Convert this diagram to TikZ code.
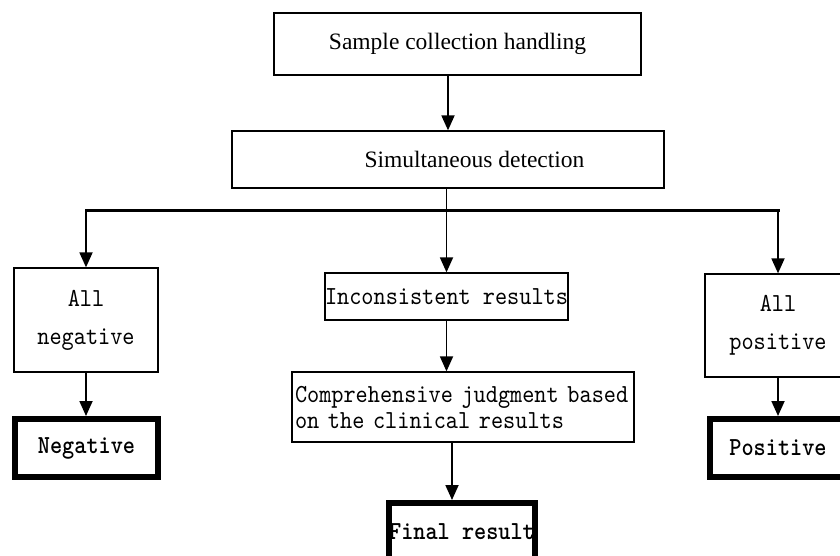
\documentclass[tikz,border=0pt]{standalone}
\usepackage{fontspec}
\setmainfont{Liberation Serif}
\newfontfamily\cnmono{lmmono10-regular.otf}[FakeStretch=0.89, BoldFont=lmmonolt10-bold.otf]
\usetikzlibrary{arrows.meta}

\begin{document}
\begin{tikzpicture}[x=1pt, y=-1pt, >={Triangle[length=15pt,width=13pt]},
  box/.style={draw, line width=1.3pt, inner sep=2pt},
  topbox/.style={box, font=\fontsize{23.5}{28}\selectfont},
  monobox/.style={box, font=\cnmono\fontsize{26}{26}\selectfont},
  resbox/.style={draw, line width=6pt, inner sep=0pt,
                 font=\cnmono\bfseries\fontsize{26}{26}\selectfont},
  arr/.style={->, line width=1.8pt},
  bus/.style={line width=3pt, line cap=rect}]

\useasboundingbox (0,0) rectangle (840,555);
\clip (0,0) rectangle (840,555);

% Étapes du haut
\node[topbox, minimum width=367pt, minimum height=62pt] (sample) at (457.5,44) {Sample collection handling};
\node[topbox, minimum width=432pt, minimum height=57pt] (detect) at (448,159.5) {\hspace*{53pt}Simultaneous detection};
\coordinate (split) at (447,210.5);

% Trois cas
\node[monobox, minimum width=144pt, minimum height=104pt, align=center] (allneg) at (86,320) {All\\[12pt]negative};
\node[monobox, minimum width=241pt, minimum height=47pt, inner xsep=0pt] (incons) at (446.5,296.5) {Inconsistent results};
\node[monobox, minimum width=146pt, minimum height=103pt, align=center] (allpos) at (778,325.5) {All\\[12pt]positive};
\node[monobox, text width=336pt, inner xsep=3pt, minimum height=70pt, align=left] (judge) at (463,407) {Comprehensive judgment based\\on the clinical results};

% Résultats
\node[resbox, minimum width=143pt, minimum height=58pt] (neg) at (86.5,448) {Negative};
\node[resbox, minimum width=136pt, minimum height=58pt] (pos) at (778,448) {Positive};
\node[resbox, minimum width=144pt, minimum height=58pt] (final) at (462,532) {Final result};

% Flèches
\draw[arr] (detect.north |- sample.south) -- (detect.north);
\draw[bus] (allneg.north |- split) -- (allpos.north |- split);
\draw[arr] (allneg.north |- split) -- (allneg.north);
\draw[arr] (allpos.north |- split) -- (allpos.north);
\draw[arr] (incons.north |- detect.south) -- (incons.north);
\draw[arr] (incons.south) -- (incons.south |- judge.north);
\draw[arr] ([xshift=-11pt]judge.south) -- ([xshift=-11pt]judge.south |- final.north);
\draw[arr] (allneg.south) -- (allneg.south |- neg.north);
\draw[arr] (allpos.south) -- (allpos.south |- pos.north);

\end{tikzpicture}
\end{document}
